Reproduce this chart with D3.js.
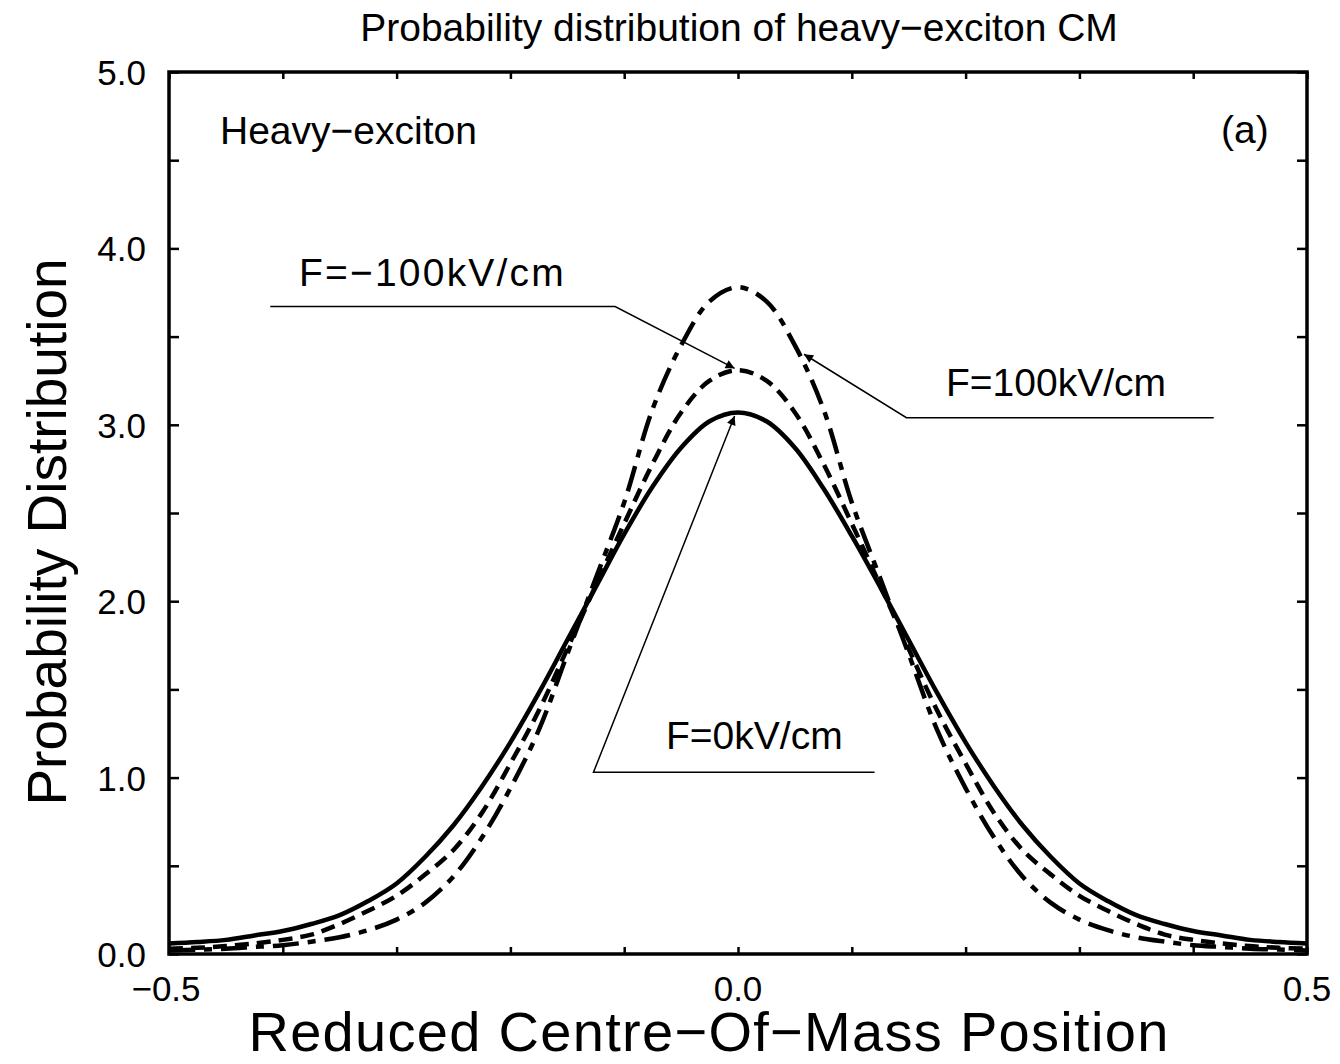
<!DOCTYPE html>
<html>
<head>
<meta charset="utf-8">
<script src="https://cdn.jsdelivr.net/npm/d3@7"></script>
<style>
  body { margin: 0; background: #fff; }
  svg text { font-family: "Liberation Sans", Arial, sans-serif; fill: #000; }
</style>
</head>
<body>
<svg id="chart" width="1340" height="1064"></svg>
<script>
// reduced centre-of-mass position, sampled every 0.025
var positions = [-0.5, -0.475, -0.45, -0.425, -0.4, -0.375, -0.35, -0.325, -0.3, -0.275,
  -0.25, -0.225, -0.2, -0.175, -0.15, -0.125, -0.1, -0.075, -0.05, -0.025, 0,
  0.025, 0.05, 0.075, 0.1, 0.125, 0.15, 0.175, 0.2, 0.225, 0.25,
  0.275, 0.3, 0.325, 0.35, 0.375, 0.4, 0.425, 0.45, 0.475, 0.5];

// F = 0 kV/cm (solid)
var field0 = [0.06, 0.068, 0.08, 0.105, 0.13, 0.17, 0.22, 0.30, 0.40, 0.55,
  0.73, 0.95, 1.20, 1.48, 1.78, 2.08, 2.38, 2.65, 2.87, 3.02, 3.07,
  3.02, 2.87, 2.64, 2.37, 2.08, 1.78, 1.48, 1.20, 0.95, 0.73,
  0.55, 0.40, 0.30, 0.22, 0.17, 0.13, 0.105, 0.08, 0.068, 0.06];

// F = -100 kV/cm (short dash)
var fieldNeg100 = [0.03, 0.035, 0.045, 0.06, 0.08, 0.11, 0.17, 0.245, 0.33, 0.45,
  0.59, 0.80, 1.08, 1.38, 1.73, 2.09, 2.44, 2.78, 3.07, 3.25, 3.31,
  3.25, 3.07, 2.78, 2.44, 2.09, 1.73, 1.38, 1.08, 0.80, 0.59,
  0.45, 0.33, 0.245, 0.17, 0.11, 0.08, 0.06, 0.045, 0.035, 0.03];

// F = 100 kV/cm (long dash - short dash)
var field100 = [0.02, 0.025, 0.03, 0.04, 0.05, 0.07, 0.095, 0.135, 0.195, 0.29,
  0.44, 0.66, 0.94, 1.27, 1.70, 2.13, 2.56, 3.09, 3.45, 3.70, 3.78,
  3.70, 3.45, 3.09, 2.56, 2.13, 1.70, 1.27, 0.94, 0.66, 0.44,
  0.29, 0.195, 0.135, 0.095, 0.07, 0.05, 0.04, 0.03, 0.025, 0.02];

var xTickLabels = [-0.5, 0.0, 0.5];
var yTickLabels = [0, 1, 2, 3, 4, 5];

(function() {
  var svg = d3.select('#chart');
  var plotL = 169, plotR = 1307, plotT = 72, plotB = 954;

  var x = d3.scaleLinear().domain([-0.5, 0.5]).range([plotL, plotR]);
  var y = d3.scaleLinear().domain([0, 5]).range([plotB, plotT]);

  var defs = svg.append('defs');
  defs.append('clipPath').attr('id', 'plot')
    .append('rect')
    .attr('x', plotL).attr('y', plotT)
    .attr('width', plotR - plotL).attr('height', plotB - plotT);
  defs.append('marker').attr('id', 'arrow')
    .attr('viewBox', '0 0 10 10').attr('refX', 10).attr('refY', 5)
    .attr('markerWidth', 14).attr('markerHeight', 9)
    .attr('markerUnits', 'userSpaceOnUse')
    .attr('orient', 'auto')
    .append('path').attr('d', 'M0,0 L10,5 L0,10 z').attr('fill', '#000');

  // ticks (inward) on all four sides
  var minorX = d3.range(-5, 6).map(function(i) { return i / 10; });
  var minorY = d3.range(0, 11).map(function(i) { return i / 2; });

  svg.append('g').attr('transform', 'translate(0,' + plotB + ')')
    .call(d3.axisBottom(x).tickValues(minorX).tickSize(-7).tickFormat(''));
  svg.append('g').attr('transform', 'translate(0,' + plotT + ')')
    .call(d3.axisTop(x).tickValues(minorX).tickSize(-7).tickFormat(''));
  svg.append('g').attr('transform', 'translate(' + plotL + ',0)')
    .call(d3.axisLeft(y).tickValues(minorY).tickSize(-10).tickFormat(''));
  svg.append('g').attr('transform', 'translate(' + plotR + ',0)')
    .call(d3.axisRight(y).tickValues(minorY).tickSize(-10).tickFormat(''));
  svg.selectAll('.domain').remove();
  svg.selectAll('.tick line').attr('stroke', '#000').attr('stroke-width', 2.5);

  // frame
  svg.append('rect')
    .attr('x', plotL).attr('y', plotT)
    .attr('width', plotR - plotL).attr('height', plotB - plotT)
    .attr('fill', 'none').attr('stroke', '#000').attr('stroke-width', 3.5);

  var fmt = function(d) { return d3.format('.1f')(d).replace('-', '\u2212'); };

  // tick labels
  svg.selectAll('.ylab').data(yTickLabels).enter().append('text')
    .attr('class', 'ylab')
    .attr('x', 146).attr('y', function(d) { return y(d) + 13; })
    .attr('text-anchor', 'end').attr('font-size', 35)
    .text(fmt);

  svg.selectAll('.xlab').data(xTickLabels).enter().append('text')
    .attr('class', 'xlab')
    .attr('x', function(d) { return x(d) - (d < 0 ? 3 : 0); }).attr('y', 1001)
    .attr('text-anchor', 'middle').attr('font-size', 35)
    .text(fmt);

  // curves
  var line = d3.line()
    .x(function(d) { return x(d[0]); })
    .y(function(d) { return y(d[1]); })
    .curve(d3.curveCatmullRom.alpha(0.5));

  var series = [
    { values: field0, dash: null },
    { values: fieldNeg100, dash: '14,8' },
    { values: field100, dash: '26,9,8,9' }
  ];

  svg.append('g').attr('clip-path', 'url(#plot)')
    .selectAll('path').data(series).enter().append('path')
    .attr('d', function(s) { return line(d3.zip(positions, s.values)); })
    .attr('fill', 'none').attr('stroke', '#000').attr('stroke-width', 4.5)
    .attr('stroke-linejoin', 'round')
    .attr('stroke-dasharray', function(s) { return s.dash; });

  // annotations
  function leader(pts) {
    svg.append('path')
      .attr('d', d3.line()(pts.map(function(p) { return [x(p[0]), y(p[1])]; })))
      .attr('fill', 'none').attr('stroke', '#000').attr('stroke-width', 1.5)
      .attr('marker-end', 'url(#arrow)');
  }
  leader([[-0.411, 3.67], [-0.108, 3.67], [-0.003, 3.32]]);
  leader([[0.418, 3.04], [0.148, 3.04], [0.058, 3.40]]);
  leader([[0.12, 1.03], [-0.127, 1.03], [-0.003, 3.05]]);

  function label(txt, px, py, size, anchor) {
    return svg.append('text').attr('x', px).attr('y', py)
      .attr('font-size', size).attr('text-anchor', anchor || 'start')
      .text(txt);
  }
  label('F=\u2212100kV/cm', 299, 286, 39).attr('letter-spacing', 2.2);
  label('F=100kV/cm', 946, 396, 39);
  label('F=0kV/cm', 666, 749, 39);
  label('Heavy\u2212exciton', 220, 144, 39);
  label('(a)', 1221, 143, 39);

  label('Probability distribution of heavy\u2212exciton CM', 739, 41, 39, 'middle');
  label('Reduced Centre\u2212Of\u2212Mass Position', 709, 1051, 56, 'middle')
    .attr('letter-spacing', 1.3);

  svg.append('text')
    .attr('transform', 'translate(66,532) rotate(-90)')
    .attr('text-anchor', 'middle').attr('font-size', 55)
    .text('Probability Distribution');
})();
</script>
</body>
</html>
